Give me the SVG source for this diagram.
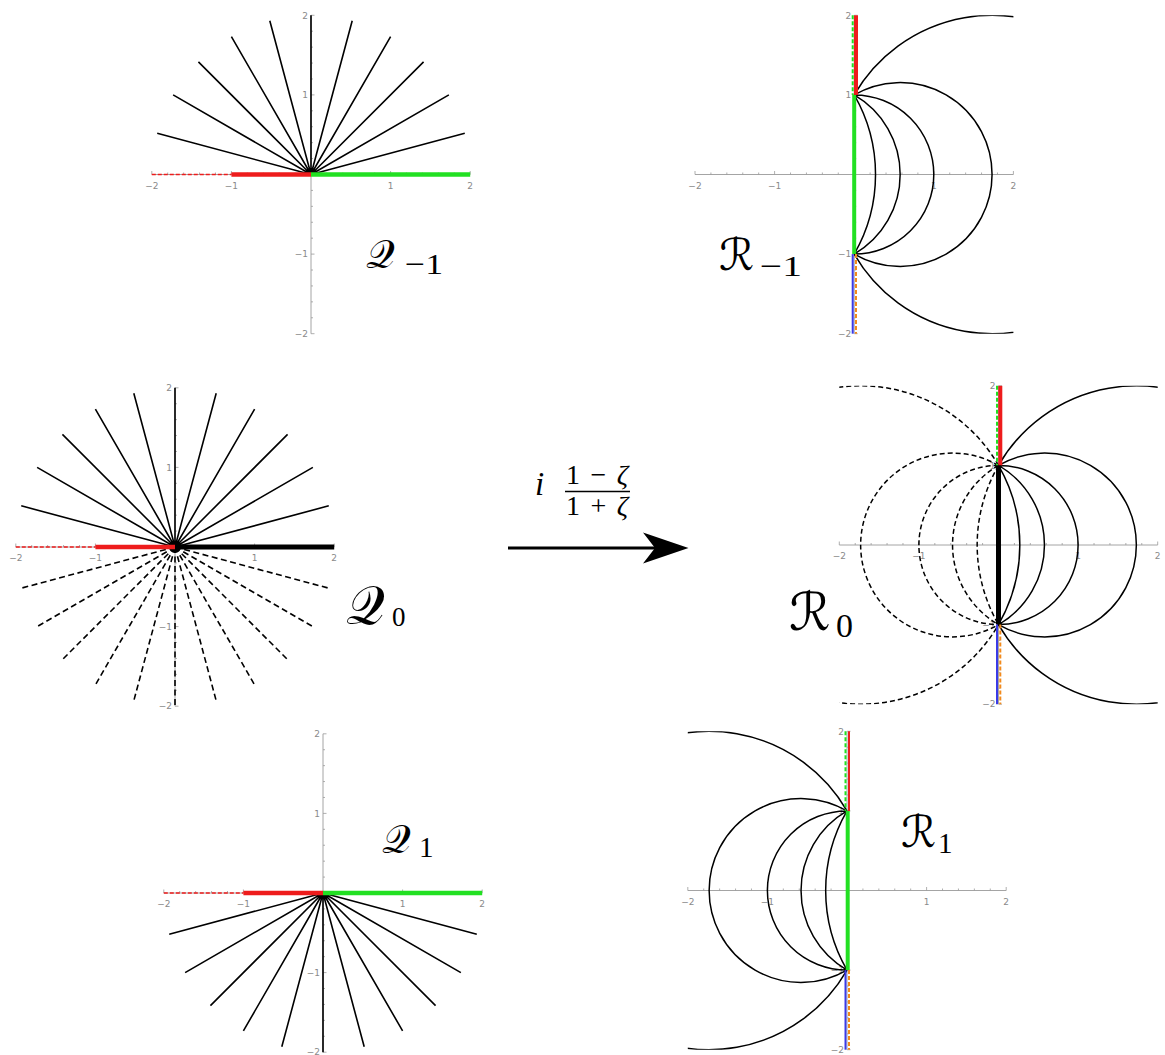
<svg xmlns="http://www.w3.org/2000/svg" xmlns:xlink="http://www.w3.org/1999/xlink" width="1165" height="1055" viewBox="0 0 1165 1055">
<style>
.axis{stroke:#9a9a9a;stroke-width:0.9;fill:none}
.tick{stroke:#9a9a9a;stroke-width:0.8;fill:none}
.tl{font-family:"DejaVu Sans","Liberation Sans",sans-serif;font-size:9px;fill:#8a8a8a}
.tlx{text-anchor:middle}
.tly{text-anchor:end}
.ray{stroke:#000;stroke-width:1.6;fill:none}
.dray{stroke:#000;stroke-width:1.6;fill:none;stroke-dasharray:6 3.5}
.arc{stroke:#000;stroke-width:1.5;fill:none}
.darc{stroke:#000;stroke-width:1.5;fill:none;stroke-dasharray:5 3}
.red{stroke:#ee1c1c;stroke-width:4.5;fill:none}
.redd{stroke:#ee1c1c;stroke-width:1.6;fill:none;stroke-dasharray:4 2}
.green{stroke:#22e022;stroke-width:4.5;fill:none}
.greend{stroke:#22e022;stroke-width:2;fill:none;stroke-dasharray:4 2}
.blk{stroke:#000;stroke-width:5;fill:none}
.blue{stroke:#3a3ae8;stroke-width:2;fill:none}
.orange{stroke:#f28a1c;stroke-width:2;fill:none;stroke-dasharray:4 2}
.lab{font-family:"DejaVu Serif","DejaVu Sans","Liberation Serif",serif;fill:#000}
.sub{font-family:"Liberation Serif","DejaVu Serif",serif;fill:#000}
.fm{font-family:"Liberation Serif","DejaVu Serif",serif;fill:#000}
</style>
<defs>
<clipPath id="box"><rect x="-159.2" y="-159.2" width="318.4" height="318.4"/></clipPath>
<g id="ax">
<path class="axis" d="M-159.2 0H159.2M0 -159.2V159.2"/>
<path class="tick" d="M-159.2 0v-3.5M-143.28 0v-2M-127.36 0v-2M-111.44 0v-2M-95.52 0v-2M-79.6 0v-3.5M-63.68 0v-2M-47.76 0v-2M-31.84 0v-2M-15.92 0v-2M15.92 0v-2M31.84 0v-2M47.76 0v-2M63.68 0v-2M79.6 0v-3.5M95.52 0v-2M111.44 0v-2M127.36 0v-2M143.28 0v-2M159.2 0v-3.5M0 -159.2h3.5M0 -143.28h2M0 -127.36h2M0 -111.44h2M0 -95.52h2M0 -79.6h3.5M0 -63.68h2M0 -47.76h2M0 -31.84h2M0 -15.92h2M0 15.92h2M0 31.84h2M0 47.76h2M0 63.68h2M0 79.6h3.5M0 95.52h2M0 111.44h2M0 127.36h2M0 143.28h2M0 159.2h3.5"/>
<text class="tl tlx" x="-159.2" y="14">−2</text>
<text class="tl tlx" x="-79.6" y="14">−1</text>
<text class="tl tlx" x="79.6" y="14">1</text>
<text class="tl tlx" x="159.2" y="14">2</text>
<text class="tl tly" x="-3" y="-156">2</text>
<text class="tl tly" x="-3" y="-76.5">1</text>
<text class="tl tly" x="-3" y="82.7">−1</text>
<text class="tl tly" x="-3" y="162.3">−2</text>
</g>
<path id="up" d="M0 0L153.78-41.2M0 0L137.87-79.6M0 0L112.57-112.57M0 0L79.6-137.87M0 0L41.2-153.78M0 0L0-159.2M0 0L-41.2-153.78M0 0L-79.6-137.87M0 0L-112.57-112.57M0 0L-137.87-79.6M0 0L-153.78-41.2"/>
<path id="arcs" d="M0 -79.6A159.2 159.2 0 0 1 0 79.6M0 -79.6A91.91 91.91 0 0 1 0 79.6M0 -79.6A79.6 79.6 0 0 1 0 79.6M0 -79.6A91.91 91.91 0 1 1 0 79.6M0 -79.6A159.2 159.2 0 1 1 0 79.6"/>
</defs>

<g id="Q-1" transform="translate(311,174.5)">
<use href="#ax" xlink:href="#ax"/>
<use href="#up" xlink:href="#up" class="ray"/>
<path class="redd" d="M-159.2 0H-79.6"/>
<path class="red" d="M-79.6 0H0"/>
<path class="green" d="M0 0H159.2"/>
</g>

<g id="R-1" transform="translate(854.2,174.5)">
<use href="#ax" xlink:href="#ax"/>
<use href="#arcs" xlink:href="#arcs" class="arc" clip-path="url(#box)"/>
<path class="greend" d="M-1.5 -159.2V-79.6"/>
<path class="red" style="stroke-width:4" d="M1.8 -159.2V-79.6"/>
<path class="green" style="stroke-width:4" d="M0 -79.6V79.6"/>
<path class="blue" d="M-1.5 79.6V159.2"/>
<path class="orange" d="M1.8 79.6V159.2"/>
</g>

<g id="Q0" transform="translate(175,547)">
<use href="#ax" xlink:href="#ax"/>
<use href="#up" xlink:href="#up" class="ray"/>
<use href="#up" xlink:href="#up" class="dray" transform="scale(1,-1)"/>
<path class="redd" d="M-159.2 0H-79.6"/>
<path class="red" d="M-79.6 0H0"/>
<path class="blk" d="M0 0H159.2"/>
</g>

<g id="R0" transform="translate(998.5,545)">
<use href="#ax" xlink:href="#ax"/>
<use href="#arcs" xlink:href="#arcs" class="arc" clip-path="url(#box)"/>
<use href="#arcs" xlink:href="#arcs" class="darc" transform="scale(-1,1)" clip-path="url(#box)"/>
<path class="greend" d="M-1.5 -159.2V-79.6"/>
<path class="red" style="stroke-width:4" d="M1.8 -159.2V-79.6"/>
<path class="blk" d="M0 -79.6V79.6"/>
<path class="blue" d="M-1.5 79.6V159.2"/>
<path class="orange" d="M1.8 79.6V159.2"/>
</g>

<g id="Q1" transform="translate(323,893)">
<use href="#ax" xlink:href="#ax"/>
<use href="#up" xlink:href="#up" class="ray" transform="scale(1,-1)"/>
<path class="redd" d="M-159.2 0H-79.6"/>
<path class="red" d="M-79.6 0H0"/>
<path class="green" d="M0 0H159.2"/>
</g>

<g id="R1" transform="translate(847,890.5)">
<use href="#ax" xlink:href="#ax"/>
<use href="#arcs" xlink:href="#arcs" class="arc" transform="scale(-1,1)" clip-path="url(#box)"/>
<path class="greend" d="M-1.5 -159.2V-79.6"/>
<path class="red" style="stroke-width:2" d="M2 -159.2V-79.6"/>
<path class="green" style="stroke-width:4" d="M0.7 -79.6V79.6"/>
<path class="blue" d="M-1.5 79.6V159.2"/>
<path class="orange" d="M2 79.6V159.2"/>
</g>

<g id="labels">
<text class="lab" x="366" y="268" font-size="40">𝒬</text><text class="sub" x="405" y="274" font-size="30" textLength="38" lengthAdjust="spacingAndGlyphs">−1</text>
<text class="lab" x="719" y="270" font-size="44">ℛ</text><text class="sub" x="760" y="276" font-size="30" textLength="42" lengthAdjust="spacingAndGlyphs">−1</text>
<text class="lab" x="346" y="624" font-size="54">𝒬</text><text class="sub" x="392" y="626" font-size="27">0</text>
<text class="lab" x="789" y="630" font-size="52">ℛ</text><text class="sub" x="836" y="637" font-size="34">0</text>
<text class="lab" x="382" y="853" font-size="40">𝒬</text><text class="sub" x="419" y="857" font-size="29">1</text>
<text class="lab" x="901" y="847" font-size="44">ℛ</text><text class="sub" x="938" y="853" font-size="29">1</text>
</g>

<g id="connectors">
<path d="M508 548H658" stroke="#000" stroke-width="3" fill="none"/>
<path d="M688.5 548L643 532.5L655 548L643 563.5Z" fill="#000"/>
<text class="fm" x="535" y="495" font-size="33" font-style="italic">i</text>
<text class="fm" x="566" y="484" font-size="28" textLength="62" lengthAdjust="spacing">1−<tspan font-style="italic">ζ</tspan></text>
<path d="M565 491.5H630" stroke="#000" stroke-width="1.3"/>
<text class="fm" x="566" y="515" font-size="28" textLength="62" lengthAdjust="spacing">1+<tspan font-style="italic">ζ</tspan></text>
</g>
</svg>
